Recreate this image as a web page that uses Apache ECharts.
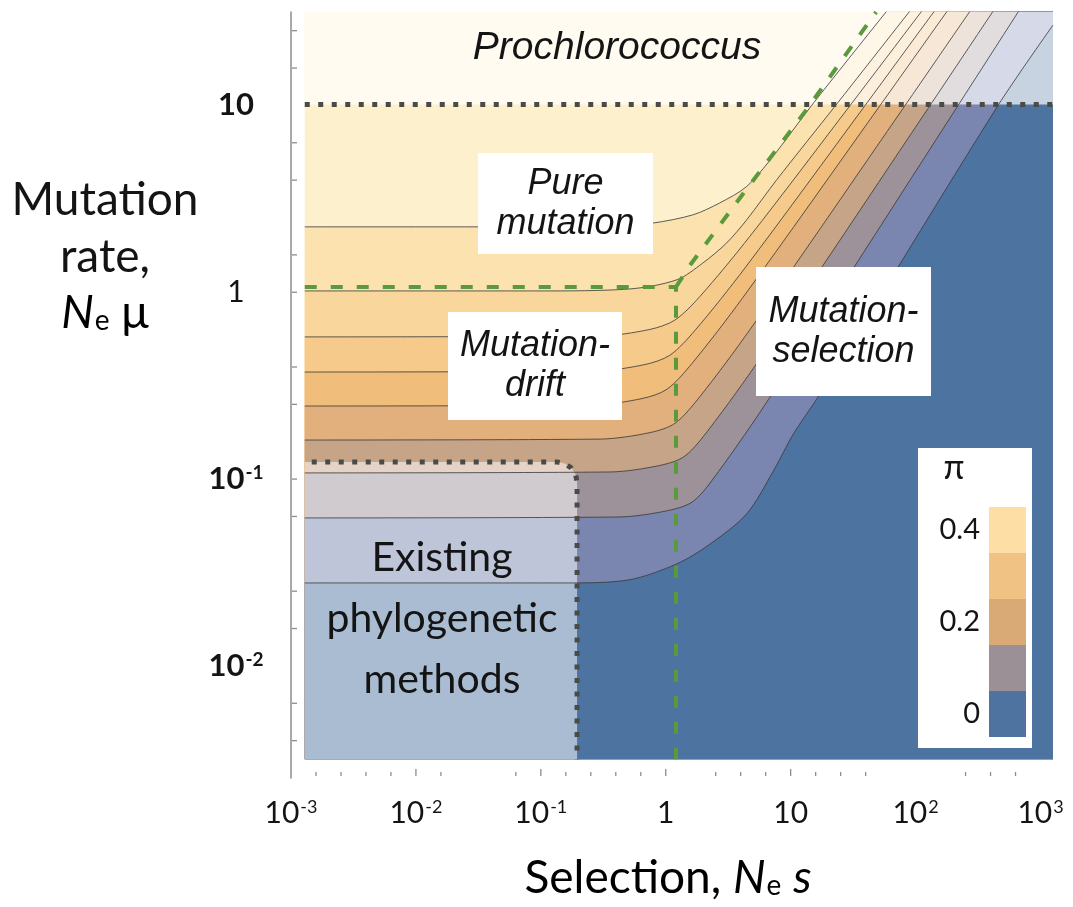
<!DOCTYPE html>
<html>
<head>
<meta charset="utf-8">
<title>Mutation rate vs selection</title>
<script src="https://cdn.jsdelivr.net/npm/echarts@6/dist/echarts.min.js"></script>
<style>
  html, body { margin: 0; padding: 0; background: #fff; }
  #chart { width: 1073px; height: 907px; }
</style>
</head>
<body>
<div id="chart"></div>
<script>
// every value is a log10: x = log10(Ne s), y = log10(Ne mu)

// axis ticks and labels (powers of ten)
const xLabelExps = [-3, -2, -1, 0, 1, 2, 3];
const yLabelExps = [-2, -1, 0, 1];
const xTicks = [-2.8, -2.6, -2.4, -2.2, -2, -1.8, -1.2, -1, -0.8, -0.6, -0.4, -0.2, 0,
  0.4, 0.6, 0.8, 1, 1.2, 1.4, 1.6, 2.4, 2.6, 2.8];
const yTicks = [1.4, 1.2, 0.8, 0.6, 0.2, 0, -0.4, -0.6, -1, -1.2, -1.6, -1.8, -2.2, -2.4];

// extent of the shaded field
const fieldX = [-2.89, 3.1];
const fieldY = [-2.5, 1.5];

// contour lines of pi, from high pi (top) to low pi (bottom)
const contour1 = [[-2.89, 0.35], [-1.0, 0.35], [-0.4, 0.355], [-0.106, 0.37], [0.216, 0.414], [0.432, 0.478], [0.646, 0.565], [0.85, 0.72], [1.168, 1.0], [1.763, 1.5], [3.1, 2.62]];
const contour2 = [[-2.89, 0.007], [-1.0, 0.007], [-0.3, 0.017], [0.086, 0.066], [0.296, 0.156], [0.486, 0.263], [0.646, 0.386], [0.886, 0.6], [1.36, 1.0], [1.948, 1.5], [3.1, 2.48]];
const contour3 = [[-2.89, -0.239], [-0.527, -0.234], [-0.127, -0.199], [0.073, -0.149], [0.273, -0.023], [0.673, 0.299], [1.476, 1.0], [2.044, 1.5], [3.1, 2.429]];
const contour4 = [[-2.89, -0.427], [-0.567, -0.422], [-0.167, -0.387], [0.033, -0.337], [0.233, -0.205], [0.633, 0.129], [1.596, 1.0], [2.145, 1.5], [3.1, 2.369]];
const contour5 = [[-2.89, -0.609], [-0.59, -0.604], [-0.19, -0.569], [0.01, -0.519], [0.21, -0.381], [0.61, -0.035], [1.716, 1.0], [2.248, 1.5], [3.1, 2.301]];
const contour6 = [[-2.89, -0.791], [-0.525, -0.786], [-0.125, -0.751], [0.075, -0.701], [0.275, -0.557], [0.675, -0.199], [1.916, 1.0], [2.431, 1.5], [3.1, 2.148]];
const contour7 = [[-2.89, -0.967], [-0.447, -0.962], [-0.047, -0.927], [0.153, -0.877], [0.353, -0.727], [0.753, -0.357], [2.116, 1.0], [2.616, 1.5], [3.1, 1.984]];
const contour8 = [[-2.89, -1.208], [-0.378, -1.203], [0.022, -1.168], [0.222, -1.118], [0.422, -0.96], [0.822, -0.574], [2.34, 1.0], [2.821, 1.5], [3.1, 1.79]];
const contour9 = [[-2.89, -1.556], [-0.8, -1.556], [-0.3, -1.54], [0.088, -1.454], [0.35, -1.35], [0.648, -1.186], [0.862, -0.956], [1.022, -0.758], [1.235, -0.544], [2.66, 1.0], [3.1, 1.43]];

// band colours, above contour1 first
const bandColors = ['#fdf0cd', '#fbe2ae', '#f8d69c', '#f5ca8a', '#f0bd7a', '#e2b07c', '#c6a488', '#9d9299', '#7a86b0', '#4d73a1'];

// regime borders
const prochlorococcusLine = [[-2.89, 1.005], [3.1, 1.005]];
const existingMethodsLine = [[-2.834, -0.908], [-0.87, -0.908], [-0.809, -0.917], [-0.757, -0.94], [-0.722, -0.974], [-0.71, -1.016], [-0.71, -2.5]];
const existingMethodsShade = [[-2.89, -0.908], [-0.87, -0.908], [-0.809, -0.917], [-0.757, -0.94], [-0.722, -0.974], [-0.71, -1.016], [-0.71, -2.5]];
const greenCorner = [[-2.89, 0.028], [0.082, 0.028], [0.082, -2.5]];
const greenDiagonal = [[0.082, 0.028], [0.2, 0.15], [0.6, 0.51], [1.13, 0.98], [1.684, 1.5]];

// colour key
const legendColors = ['#fddfa6', '#f0c283', '#d9a976', '#9a9096', '#4e73a0'];
const legendLabels = [['0.4', 0], ['0.2', 2], ['0', 4]];

const contours = [contour1, contour2, contour3, contour4, contour5, contour6, contour7, contour8, contour9];

const chart = echarts.init(document.getElementById('chart'));

const txt = '#141414';
const labelRich = {
  n: { fontSize: 30, fontFamily: 'Lato', color: txt },
  e: { fontSize: 18, fontFamily: 'Lato', color: txt, padding: [0, 0, 12, 1] },
  nb: { fontSize: 31, fontFamily: 'Lato', fontWeight: 'bold', color: txt },
  eb: { fontSize: 19, fontFamily: 'Lato', fontWeight: 'bold', color: txt, padding: [0, 0, 12, 1] }
};

function isWhole(v) {
  return Math.abs(v - Math.round(v)) < 1e-6;
}

const series = [];

// base colour of the field
series.push({
  type: 'line', data: [[fieldX[0], fieldY[1]], [fieldX[1], fieldY[1]]],
  symbol: 'none', lineStyle: { width: 0 },
  areaStyle: { color: bandColors[0], opacity: 1, origin: fieldY[0] }
});

contours.forEach((c, i) => {
  series.push({
    type: 'line', data: c, smooth: 0.3, symbol: 'none',
    lineStyle: { color: 'rgba(55,55,55,0.8)', width: 1 },
    areaStyle: { color: bandColors[i + 1], opacity: 1, origin: fieldY[0] }
  });
});

// faded regions
series.push({
  type: 'line', data: prochlorococcusLine, symbol: 'none', lineStyle: { width: 0 },
  areaStyle: { color: 'rgba(255,255,255,0.69)', opacity: 1, origin: 'end' }
});
series.push({
  type: 'line', data: existingMethodsShade, symbol: 'none', lineStyle: { width: 0 },
  areaStyle: { color: 'rgba(255,255,255,0.52)', opacity: 1, origin: fieldY[0] }
});

// dotted borders
[prochlorococcusLine, existingMethodsLine].forEach(d => {
  series.push({
    type: 'line', data: d, symbol: 'none',
    lineStyle: { color: '#4a4a46', width: 5, type: [5, 8.5], cap: 'butt' }
  });
});

// green dashed regime lines
[greenCorner, greenDiagonal].forEach(d => {
  series.push({
    type: 'line', data: d, symbol: 'none',
    lineStyle: { color: '#5a9a3c', width: 4, type: [12, 14], cap: 'butt' }
  });
});

// ticks
series.push({
  type: 'custom', data: xTicks.map(v => [v, -2.6]),
  renderItem(params, api) {
    const v = api.value(0);
    const p = api.coord([v, api.value(1)]);
    const len = isWhole(v) ? 9 : 6;
    return {
      type: 'line',
      shape: { x1: p[0], y1: p[1] - 2, x2: p[0], y2: p[1] - len },
      style: { stroke: '#8c8c8c', lineWidth: 1.3 }
    };
  }
});
series.push({
  type: 'custom', data: yTicks.map(v => [-3, v]),
  renderItem(params, api) {
    const p = api.coord([api.value(0), api.value(1)]);
    return {
      type: 'line',
      shape: { x1: p[0] + 1, y1: p[1], x2: p[0] + 6, y2: p[1] },
      style: { stroke: '#8c8c8c', lineWidth: 1.3 }
    };
  }
});

series.forEach(s => { s.silent = true; });

const italic = { fontFamily: 'Liberation Sans', fontStyle: 'italic', fontSize: 36, fill: txt };

function boxLabel(x, y, w, h, text) {
  return [
    { type: 'rect', shape: { x: x, y: y, width: w, height: h }, style: { fill: '#fff' } },
    {
      type: 'text', x: x + w / 2, y: y + h / 2,
      style: Object.assign({ text: text, align: 'center', verticalAlign: 'middle', lineHeight: 40 }, italic)
    }
  ];
}

const titleRich = {
  r: { fontSize: 46, fontFamily: 'Lato', color: txt },
  i: { fontSize: 46, fontFamily: 'Lato', fontStyle: 'italic', color: txt },
  s: { fontSize: 28, fontFamily: 'Lato', color: txt, padding: [16, 0, 0, 1] }
};

const plain = (t, x, y, size, extra) => ({
  type: 'text', x: x, y: y,
  style: Object.assign({ text: t, fontSize: size, fontFamily: 'Lato', fill: txt, align: 'center', verticalAlign: 'middle' }, extra || {})
});

const legend = [
  { type: 'rect', shape: { x: 918, y: 448, width: 114, height: 300 }, style: { fill: '#fff' } },
  plain('π', 954, 468, 34)
];
legendColors.forEach((c, i) => {
  legend.push({ type: 'rect', shape: { x: 989, y: 507 + i * 46, width: 37, height: 46 }, style: { fill: c } });
});
legendLabels.forEach(([t, i]) => {
  legend.push(plain(t, 980, 530 + i * 46, 29, { align: 'right' }));
});

const graphics = [].concat(
  [{ type: 'text', x: 617, y: 48, style: Object.assign({ text: 'Prochlorococcus', align: 'center', verticalAlign: 'middle' }, italic, { fontSize: 39 }) }],
  boxLabel(478, 153, 175, 101, 'Pure\nmutation'),
  boxLabel(448, 312, 174, 108, 'Mutation-\ndrift'),
  boxLabel(756, 267, 175, 129, 'Mutation-\nselection'),
  [plain('Existing\nphylogenetic\nmethods', 442, 619, 41, { lineHeight: 61 })],
  legend,
  [
    plain('Mutation', 105, 200, 46),
    plain('rate,', 105, 257, 46),
    { type: 'text', x: 105, y: 313, style: { text: '{i|N}{s|e}{r| μ}', rich: titleRich, align: 'center', verticalAlign: 'middle' } },
    { type: 'text', x: 668, y: 878, style: { text: '{r|Selection, }{i|N}{s|e}{r| }{i|s}', rich: titleRich, align: 'center', verticalAlign: 'middle' } }
  ]
);
graphics.forEach(g => { g.z = 100; g.silent = true; });

chart.setOption({
  animation: false,
  grid: { left: 291, right: 20, top: 12, bottom: 129 },
  xAxis: {
    type: 'value', min: -3, max: 3.1, interval: 1,
    axisLine: { show: false, onZero: false },
    axisTick: { show: false },
    splitLine: { show: false },
    axisLabel: {
      margin: 20, rich: labelRich,
      formatter: v => {
        if (!isWhole(v)) return '';
        const k = Math.round(v);
        if (!xLabelExps.includes(k)) return '';
        if (k === 0) return '{n|1}';
        if (k === 1) return '{n|10}';
        return '{n|10}{e|' + k + '}';
      }
    }
  },
  yAxis: {
    type: 'value', min: -2.6, max: 1.5, interval: 0.2,
    axisLine: { show: true, onZero: false, lineStyle: { color: '#8c8c8c', width: 1.5 } },
    axisTick: { show: false },
    splitLine: { show: false },
    axisLabel: {
      margin: 55, align: 'center', rich: labelRich,
      formatter: v => {
        if (!isWhole(v)) return '';
        const k = Math.round(v);
        if (!yLabelExps.includes(k)) return '';
        if (k === 0) return '{n|1}';
        if (k === 1) return '{nb|10}';
        return '{nb|10}{eb|' + k + '}';
      }
    }
  },
  series: series,
  graphic: graphics
});
</script>
</body>
</html>
